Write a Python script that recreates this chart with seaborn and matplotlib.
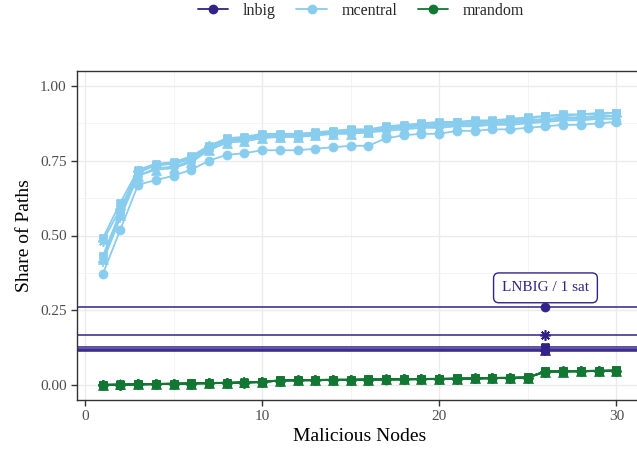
import matplotlib
matplotlib.use("Agg")
import matplotlib.pyplot as plt
import numpy as np
import pandas as pd
import seaborn as sns
from matplotlib.path import Path
from matplotlib.lines import Line2D
from matplotlib.ticker import FixedLocator

# ---------------- data ----------------
nodes = list(range(1, 31))
variants = ["v1", "v2", "v3", "v4", "v5", "v6"]

mcentral_v1 = [0.37, 0.52, 0.67, 0.685, 0.70, 0.72, 0.75, 0.77, 0.775, 0.785,
               0.785, 0.785, 0.79, 0.795, 0.80, 0.80, 0.825, 0.835, 0.84, 0.84,
               0.85, 0.85, 0.855, 0.855, 0.86, 0.865, 0.87, 0.87, 0.875, 0.88]
mcentral_v2 = [0.42, 0.57, 0.70, 0.72, 0.725, 0.745, 0.785, 0.81, 0.815, 0.825,
               0.83, 0.83, 0.835, 0.84, 0.84, 0.845, 0.85, 0.855, 0.86, 0.86,
               0.865, 0.865, 0.87, 0.87, 0.875, 0.88, 0.885, 0.885, 0.89, 0.89]
mcentral_v3 = [0.43, 0.58, 0.71, 0.735, 0.74, 0.755, 0.795, 0.82, 0.825, 0.835,
               0.835, 0.835, 0.84, 0.845, 0.85, 0.85, 0.86, 0.865, 0.87, 0.875,
               0.88, 0.88, 0.88, 0.885, 0.89, 0.90, 0.905, 0.905, 0.91, 0.91]
mcentral_v4 = [0.41, 0.56, 0.70, 0.725, 0.73, 0.75, 0.79, 0.815, 0.82, 0.83,
               0.83, 0.83, 0.835, 0.84, 0.845, 0.845, 0.855, 0.86, 0.865, 0.865,
               0.87, 0.87, 0.875, 0.875, 0.88, 0.885, 0.89, 0.89, 0.895, 0.90]
mcentral_v5 = [0.49, 0.61, 0.72, 0.74, 0.745, 0.765, 0.80, 0.825, 0.83, 0.84,
               0.84, 0.84, 0.845, 0.85, 0.855, 0.855, 0.865, 0.87, 0.875, 0.88,
               0.88, 0.885, 0.885, 0.89, 0.895, 0.90, 0.90, 0.905, 0.905, 0.91]
mcentral_v6 = [0.48, 0.59, 0.715, 0.735, 0.74, 0.76, 0.80, 0.82, 0.825, 0.835,
               0.835, 0.835, 0.84, 0.845, 0.85, 0.85, 0.86, 0.865, 0.87, 0.87,
               0.875, 0.875, 0.88, 0.88, 0.885, 0.89, 0.895, 0.895, 0.90, 0.90]

mrandom_v1 = [0.000, 0.001, 0.002, 0.003, 0.004, 0.005, 0.006, 0.007, 0.008, 0.010,
              0.015, 0.016, 0.017, 0.017, 0.017, 0.018, 0.018, 0.019, 0.019, 0.020,
              0.021, 0.022, 0.023, 0.024, 0.025, 0.045, 0.046, 0.046, 0.047, 0.048]
mrandom_v2 = [0.001, 0.002, 0.002, 0.003, 0.004, 0.005, 0.006, 0.007, 0.009, 0.011,
              0.015, 0.016, 0.016, 0.017, 0.018, 0.018, 0.019, 0.019, 0.020, 0.020,
              0.021, 0.022, 0.023, 0.023, 0.025, 0.044, 0.045, 0.046, 0.047, 0.047]
mrandom_v3 = [0.001, 0.001, 0.003, 0.004, 0.004, 0.006, 0.006, 0.008, 0.008, 0.010,
              0.016, 0.016, 0.017, 0.018, 0.018, 0.019, 0.019, 0.020, 0.020, 0.021,
              0.022, 0.022, 0.024, 0.024, 0.026, 0.046, 0.046, 0.047, 0.048, 0.049]
mrandom_v4 = [0.000, 0.001, 0.002, 0.003, 0.005, 0.005, 0.007, 0.007, 0.009, 0.010,
              0.015, 0.015, 0.016, 0.017, 0.017, 0.018, 0.018, 0.019, 0.020, 0.020,
              0.021, 0.021, 0.023, 0.024, 0.025, 0.045, 0.045, 0.046, 0.047, 0.048]
mrandom_v5 = [0.001, 0.002, 0.003, 0.004, 0.005, 0.006, 0.007, 0.008, 0.009, 0.011,
              0.016, 0.017, 0.017, 0.018, 0.018, 0.019, 0.020, 0.020, 0.021, 0.021,
              0.022, 0.023, 0.024, 0.025, 0.026, 0.046, 0.047, 0.047, 0.048, 0.049]
mrandom_v6 = [0.000, 0.001, 0.002, 0.003, 0.004, 0.005, 0.006, 0.007, 0.008, 0.010,
              0.015, 0.016, 0.016, 0.017, 0.017, 0.018, 0.019, 0.019, 0.020, 0.020,
              0.021, 0.022, 0.023, 0.024, 0.025, 0.045, 0.046, 0.046, 0.047, 0.048]

lnbig_x = 26
lnbig_values = [0.262, 0.118, 0.122, 0.114, 0.127, 0.168]

label_text = "LNBIG / 1 sat"
label_x = 26
label_y = 0.325

groups = ["lnbig", "mcentral", "mrandom"]
colors = {"lnbig": "#332288", "mcentral": "#88CCEE", "mrandom": "#117733"}

# ---------------- long table ----------------
mcentral = [mcentral_v1, mcentral_v2, mcentral_v3, mcentral_v4, mcentral_v5, mcentral_v6]
mrandom = [mrandom_v1, mrandom_v2, mrandom_v3, mrandom_v4, mrandom_v5, mrandom_v6]
rows = []
for g, series in (("mcentral", mcentral), ("mrandom", mrandom)):
    for v, vals in zip(variants, series):
        for x, y in zip(nodes, vals):
            rows.append({"nodes": x, "share": y, "group": g, "variant": v})
df = pd.DataFrame(rows)
df_ln = pd.DataFrame({"nodes": [lnbig_x] * len(variants), "share": lnbig_values,
                      "group": "lnbig", "variant": variants})

# final markers: ggplot shapes 16, 17, 15, 3, 7, 8
boxx = Path([(-1, -1), (1, -1), (1, 1), (-1, 1), (-1, -1), (1, 1), (-1, 1), (1, -1)],
            [Path.MOVETO, Path.LINETO, Path.LINETO, Path.LINETO, Path.LINETO,
             Path.LINETO, Path.MOVETO, Path.LINETO])
final_markers = {"v1": "o", "v2": "^", "v3": "s", "v4": "+", "v5": boxx, "v6": (8, 2, 0)}
placeholder = {v: "o" for v in variants}

# ---------------- style ----------------
sns.set_style("ticks")
plt.rcParams["font.family"] = ["Liberation Serif", "DejaVu Serif"]

fig = plt.figure(figsize=(6.37, 4.62), dpi=100)
ax = fig.add_axes([77 / 637, 1 - 400 / 462, (642 - 77) / 637, (400 - 71) / 462])


def styled_lines(data, color, lw, zorder):
    n0 = len(ax.lines)
    sns.lineplot(data=data, x="nodes", y="share", style="variant",
                 style_order=variants, markers=placeholder, dashes=False,
                 color=color, linewidth=lw, ax=ax, legend=False, zorder=zorder)
    for v, ln in zip(variants, ax.lines[n0:]):
        m = final_markers[v]
        ln.set_marker(m)
        ln.set_color(color)
        ln.set_markerfacecolor(color)
        ln.set_markeredgecolor(color)
        if m in ("o", "^", "s"):
            ln.set_markersize(6.5 if m != "s" else 6.0)
            ln.set_markeredgewidth(0.5)
        else:
            ln.set_markersize(7 if m == "+" else 5 if m is boxx else 7.5)
            ln.set_markeredgewidth(1.2)


styled_lines(df[df.group == "mcentral"], colors["mcentral"], 1.3, 3)
styled_lines(df[df.group == "mrandom"], colors["mrandom"], 1.3, 3)

for v in lnbig_values:
    ax.axhline(v, color=colors["lnbig"], linewidth=1.1, zorder=2)
styled_lines(df_ln, colors["lnbig"], 1.0, 4)

ax.text(label_x, label_y, label_text, ha="center", va="center", fontsize=11,
        color=colors["lnbig"], zorder=6,
        bbox=dict(boxstyle="round,pad=0.55,rounding_size=0.35", fc="white",
                  ec=colors["lnbig"], lw=1.0))

ax.set_xlim(-0.45, 31.45)
ax.set_ylim(-0.05, 1.05)
ax.xaxis.set_major_locator(FixedLocator([0, 10, 20, 30]))
ax.xaxis.set_minor_locator(FixedLocator([5, 15, 25]))
ax.yaxis.set_major_locator(FixedLocator([0, 0.25, 0.5, 0.75, 1.0]))
ax.yaxis.set_minor_locator(FixedLocator([0.125, 0.375, 0.625, 0.875]))
ax.set_yticklabels(["0.00", "0.25", "0.50", "0.75", "1.00"])
ax.grid(True, which="major", color="#EBEBEB", linewidth=1.0, zorder=0)
ax.grid(True, which="minor", color="#F2F2F2", linewidth=0.6, zorder=0)
ax.set_axisbelow(True)
for s in ax.spines.values():
    s.set_color("#333333")
    s.set_linewidth(1.0)
    s.set_visible(True)
ax.tick_params(which="major", length=4, width=1, color="#333333",
               labelcolor="#4D4D4D", labelsize=11)
ax.tick_params(which="minor", length=0)
ax.set_xlabel("Malicious Nodes", fontsize=14, color="black", labelpad=3)
ax.set_ylabel("Share of Paths", fontsize=14, color="black", labelpad=5)

handles = [Line2D([0], [0], color=colors[g], marker="o", markersize=6, linewidth=1.3)
           for g in groups]
fig.legend(handles, groups, loc="upper center", bbox_to_anchor=(361 / 637, 1.025),
           ncol=3, frameon=False, fontsize=11.5, handlelength=1.9,
           columnspacing=1.3, handletextpad=0.9)

fig.savefig("out.png", dpi=100)
